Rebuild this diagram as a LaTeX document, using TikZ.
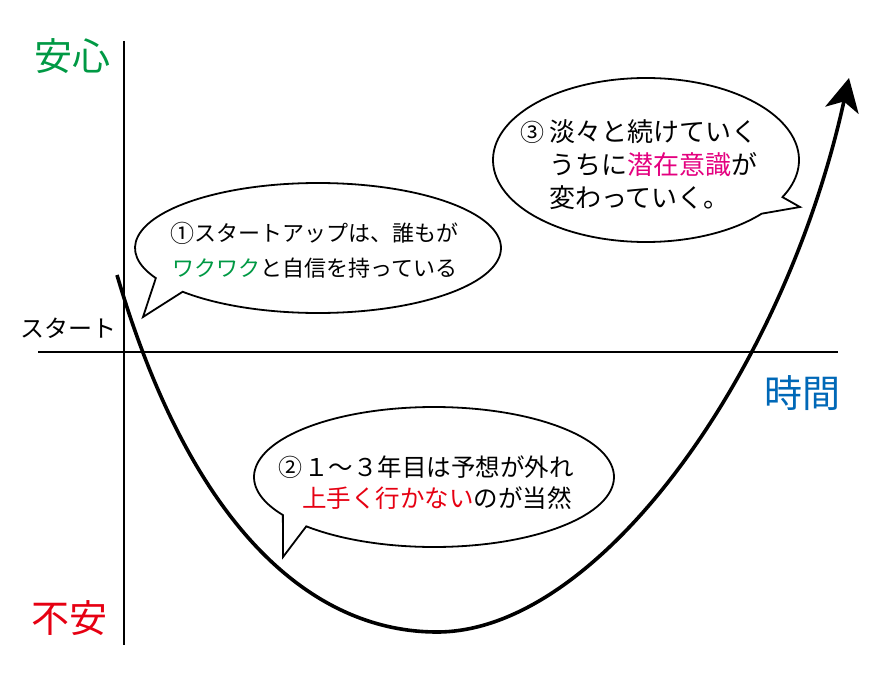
\documentclass[tikz,border=0pt]{standalone}
\usepackage{fontspec}
\newfontfamily\jp{Noto Sans CJK JP}
\usetikzlibrary{arrows.meta,calc}
\definecolor{ggreen}{RGB}{0,153,68}
\definecolor{rred}{RGB}{230,0,18}
\definecolor{ppink}{RGB}{228,0,127}
\definecolor{bblue}{RGB}{0,104,183}
\begin{document}
\begin{tikzpicture}[x=1pt,y=-1pt,
  bubble/.style={draw=black,line width=1.8pt,fill=white,line join=miter},
  axisline/.style={line width=1.8pt},
  curveline/.style={line width=3.6pt,-{Stealth[length=33pt,width=34pt,inset=9pt]}},
  bigword/.style={inner sep=0pt,font=\jp\fontsize{38}{42}\selectfont},
  btext/.style={anchor=west,inner sep=0pt,font=\jp\fontsize{22}{26}\selectfont},
  ctext/.style={anchor=west,inner sep=0pt,font=\jp\fontsize{26}{30}\selectfont},
  dtext/.style={anchor=west,inner sep=0pt,font=\jp\fontsize{24.5}{28}\selectfont},
  numtext/.style={inner sep=0pt,font=\jp\fontsize{24}{26}\selectfont}]
\useasboundingbox (0,0) rectangle (888,679);
% axes
\coordinate (ytop) at (124,41);
\coordinate (ybot) at (124,645);
\coordinate (xleft) at (38,352);
\coordinate (xright) at (838,352);
\draw[axisline] (ytop) -- (ybot);
\draw[axisline] (xleft) -- (xright);
% axis labels
\node[bigword,text=ggreen] (anshin) at (72,56) {安心};
\node[bigword,text=rred] (fuan) at (69,618) {不安};
\node[bigword,text=bblue] (jikan) at (802,393) {時間};
\node[inner sep=0pt,font=\jp\fontsize{24}{28}\selectfont] (start) at (68,328) {スタート};
% curve
\coordinate (c0) at (117,275);
\coordinate (cmin) at (437,632);
\coordinate (cend) at (849,78);
\draw[curveline] (c0) .. controls (195,540) and (320,632) .. (cmin)
  .. controls (600,632) and (785,370) .. (cend);
% bubble 1
\coordinate (b1) at (318,248);
\coordinate (t1) at (143,317);
\draw[bubble] ($(b1)+(152.4:183 and 65)$) -- (t1) -- ($(b1)+(137.7:183 and 65)$)
  arc[start angle=137.7,end angle=-207.6,x radius=183,y radius=65] -- cycle;
\node[numtext] (n1) at (182,233) {①};
\node[btext] (b1l1) at (194,233) {スタートアップは、誰もが};
\node[btext] (b1l2) at (172,268) {{\color{ggreen}ワクワク}と自信を持っている};
% bubble 3
\coordinate (b3) at (646,160);
\coordinate (t3) at (800,207);
\draw[bubble] ($(b3)+(26.9:153 and 82)$) -- (t3) -- ($(b3)+(40.9:153 and 82)$)
  arc[start angle=40.9,end angle=386.9,x radius=153,y radius=82] -- cycle;
\node[numtext] (n3) at (532,132) {③};
\node[ctext] (b3l1) at (549,132) {淡々と続けていく};
\node[ctext] (b3l2) at (549,165) {うちに{\color{ppink}潜在意識}が};
\node[ctext] (b3l3) at (549,198) {変わっていく。};
% bubble 2
\coordinate (b2) at (434,477);
\coordinate (t2) at (283,557);
\draw[bubble] ($(b2)+(147.1:180 and 70)$) -- (t2) -- ($(b2)+(135.2:180 and 70)$)
  arc[start angle=135.2,end angle=-212.9,x radius=180,y radius=70] -- cycle;
\node[numtext] (n2) at (290,467) {②};
\node[dtext] (b2l1) at (304,467) {１～３年目は予想が外れ};
\node[dtext] (b2l2) at (302,498) {{\color{rred}上手く行かない}のが当然};
\end{tikzpicture}
\end{document}
